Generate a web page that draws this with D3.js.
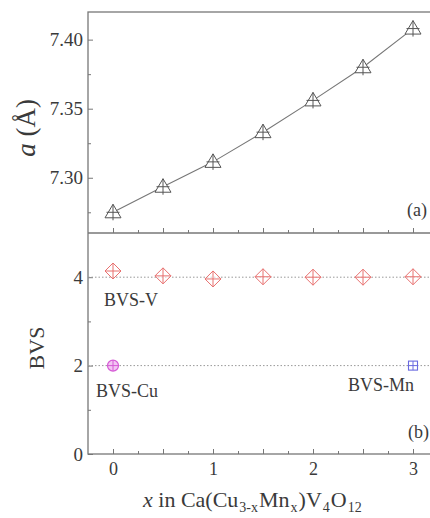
<!DOCTYPE html>
<html lang="en">
<head>
<meta charset="UTF-8">
<title>Lattice parameter and BVS</title>
<script src="https://d3js.org/d3.v7.min.js"></script>
<style>
    body { margin: 0; background: #fff; }
    svg { display: block; font-family: "Liberation Serif", "DejaVu Serif", serif; }
    .frame { fill: none; stroke: #777; stroke-width: 1.3px; }
    .axis path { display: none; }
    .axis line { stroke: #777; stroke-width: 1px; }
    .axis text { fill: #3a3a3a; }
    .guide { stroke: #999; stroke-width: 1px; stroke-dasharray: 1.5,2; }
    .lbl { fill: #3a3a3a; font-size: 18px; }
</style>
</head>
<body>
<svg width="430" height="518"></svg>
<script>
    // data
    let xVals = [0, 0.5, 1, 1.5, 2, 2.5, 3];
    let aVals = [7.275, 7.2935, 7.3115, 7.333, 7.356, 7.380, 7.408];
    let bvsV = [4.14, 4.03, 3.96, 4.01, 4.0, 4.0, 4.01];
    let bvsCu = [{x: 0, y: 2.0}];
    let bvsMn = [{x: 3, y: 2.0}];
    let xTickLabels = [0, 1, 2, 3];
    let aTicks = [7.30, 7.35, 7.40];
    let bTicks = [0, 2, 4];

    let serif = '"Liberation Serif", "DejaVu Serif", serif';
    let svg = d3.select('svg');
    let pLeft = 88, pRight = 438, pTop = 12, pMid = 233, pBottom = 454;

    let xScale = d3.scaleLinear().domain([-0.25, 3.25]).range([pLeft, pRight]);
    let yA = d3.scaleLinear().domain([7.26, 7.42]).range([pMid, pTop]);
    let yB = d3.scaleLinear().domain([0, 5]).range([pBottom, pMid]);

    let aData = xVals.map(function (x, i) { return {x: x, y: aVals[i]}; });
    let vData = xVals.map(function (x, i) { return {x: x, y: bvsV[i]}; });

    // ---- axes (ticks point inward)
    function xAxisAt(y, showLabels) {
        svg.append('g').attr('class', 'axis')
            .attr('transform', 'translate(0,' + y + ')')
            .call(d3.axisBottom(xScale).tickValues(d3.range(0, 3.01, 0.25)).tickSize(-3).tickFormat(''));
        let g = svg.append('g').attr('class', 'axis')
            .attr('transform', 'translate(0,' + y + ')')
            .call(d3.axisBottom(xScale).tickValues(d3.range(0, 3.01, 0.5)).tickSize(-5).tickPadding(8)
                .tickFormat(function (d) { return showLabels && xTickLabels.indexOf(d) >= 0 ? d : ''; }));
        g.attr('font-family', serif).attr('font-size', 18);
    }
    function yAxis(scale, major, minor, fmt) {
        svg.append('g').attr('class', 'axis')
            .attr('transform', 'translate(' + pLeft + ',0)')
            .call(d3.axisLeft(scale).tickValues(minor).tickSize(-3).tickFormat(''));
        let g = svg.append('g').attr('class', 'axis')
            .attr('transform', 'translate(' + pLeft + ',0)')
            .call(d3.axisLeft(scale).tickValues(major).tickSize(-5).tickPadding(5).tickFormat(fmt));
        g.attr('font-family', serif).attr('font-size', 19);
    }
    xAxisAt(pMid, false);
    xAxisAt(pBottom, true);
    yAxis(yA, aTicks, [7.275, 7.325, 7.375], d3.format('.2f'));
    yAxis(yB, bTicks, [1, 3], d3.format('d'));

    svg.append('rect').attr('class', 'frame')
        .attr('x', pLeft).attr('y', pTop).attr('width', pRight - pLeft).attr('height', pBottom - pTop);
    svg.append('line').attr('class', 'frame')
        .attr('x1', pLeft).attr('x2', pRight).attr('y1', pMid).attr('y2', pMid);

    // ---- panel (a)
    let line = d3.line().x(function (d) { return xScale(d.x); }).y(function (d) { return yA(d.y); });
    svg.append('path').datum(aData).attr('d', line)
        .attr('fill', 'none').attr('stroke', '#777').attr('stroke-width', 1.1);

    let tri = svg.append('g').selectAll('g').data(aData).join('g')
        .attr('transform', function (d) { return 'translate(' + xScale(d.x) + ',' + yA(d.y) + ')'; });
    tri.append('path').attr('d', 'M0,-8L8,5.5L-8,5.5Z')
        .attr('fill', '#fff').attr('stroke', '#555').attr('stroke-width', 1);
    tri.append('path').attr('d', 'M0,-8V8M-6.5,0H6.5')
        .attr('stroke', '#555').attr('stroke-width', 1);

    // ---- panel (b)
    svg.append('line').attr('class', 'guide')
        .attr('x1', pLeft).attr('x2', pRight).attr('y1', yB(4)).attr('y2', yB(4));
    svg.append('line').attr('class', 'guide')
        .attr('x1', pLeft).attr('x2', pRight).attr('y1', yB(2)).attr('y2', yB(2));

    let dia = svg.append('g').selectAll('g').data(vData).join('g')
        .attr('transform', function (d) { return 'translate(' + xScale(d.x) + ',' + yB(d.y) + ')'; });
    dia.append('path').attr('d', 'M0,-8L8,0L0,8L-8,0Z')
        .attr('fill', '#fff').attr('fill-opacity', 0.6).attr('stroke', '#e8706f').attr('stroke-width', 1);
    dia.append('path').attr('d', 'M0,-8V8M-8,0H8')
        .attr('stroke', '#e8706f').attr('stroke-width', 1);

    let cu = svg.append('g').selectAll('g').data(bvsCu).join('g')
        .attr('transform', function (d) { return 'translate(' + xScale(d.x) + ',' + yB(d.y) + ')'; });
    cu.append('circle').attr('r', 5.5)
        .attr('fill', '#f3c6f3').attr('stroke', '#d65bd6').attr('stroke-width', 1.2);
    cu.append('path').attr('d', 'M0,-5.5V5.5M-5.5,0H5.5')
        .attr('stroke', '#d65bd6').attr('stroke-width', 1);

    let mn = svg.append('g').selectAll('g').data(bvsMn).join('g')
        .attr('transform', function (d) { return 'translate(' + xScale(d.x) + ',' + yB(d.y) + ')'; });
    mn.append('rect').attr('x', -4.5).attr('y', -4.5).attr('width', 9).attr('height', 9)
        .attr('fill', '#fff').attr('stroke', '#6a6ae0').attr('stroke-width', 1.1);
    mn.append('path').attr('d', 'M0,-4.5V4.5M-4.5,0H4.5')
        .attr('stroke', '#6a6ae0').attr('stroke-width', 1);

    // ---- text
    svg.append('text').attr('class', 'lbl').attr('x', 104).attr('y', 306).text('BVS-V');
    svg.append('text').attr('class', 'lbl').attr('x', 96).attr('y', 397).text('BVS-Cu');
    svg.append('text').attr('class', 'lbl').attr('x', 348).attr('y', 391).text('BVS-Mn');
    svg.append('text').attr('class', 'lbl').attr('x', 407).attr('y', 216).text('(a)');
    svg.append('text').attr('class', 'lbl').attr('x', 408).attr('y', 438).text('(b)');

    let ya = svg.append('text').attr('transform', 'translate(35,128) rotate(-90)')
        .attr('text-anchor', 'middle').attr('fill', '#3a3a3a').style('font-size', '27px');
    ya.append('tspan').attr('font-style', 'italic').text('a');
    ya.append('tspan').text(' (Å)');

    svg.append('text').attr('transform', 'translate(44,348) rotate(-90)')
        .attr('text-anchor', 'middle').attr('fill', '#3a3a3a').style('font-size', '22px').text('BVS');

    let xl = svg.append('text').attr('x', 143).attr('y', 507).attr('fill', '#3a3a3a').style('font-size', '22px');
    xl.append('tspan').attr('font-style', 'italic').text('x');
    xl.append('tspan').text(' in Ca(Cu');
    xl.append('tspan').attr('dy', 5).style('font-size', '14px').attr('dx', 1).text('3-x');
    xl.append('tspan').attr('dy', -5).attr('dx', 1).text('Mn');
    xl.append('tspan').attr('dy', 5).style('font-size', '14px').attr('dx', 1).text('x');
    xl.append('tspan').attr('dy', -5).attr('dx', 1).text(')V');
    xl.append('tspan').attr('dy', 5).style('font-size', '14px').attr('dx', 1).text('4');
    xl.append('tspan').attr('dy', -5).attr('dx', 1).text('O');
    xl.append('tspan').attr('dy', 5).style('font-size', '14px').attr('dx', 1).text('12');
</script>
</body>
</html>
